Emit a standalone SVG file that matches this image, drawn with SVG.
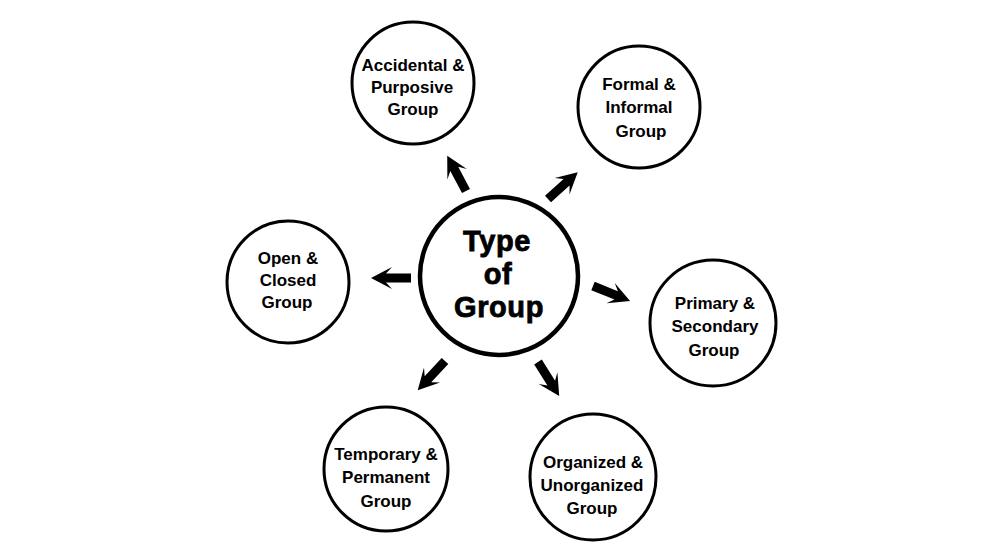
<svg xmlns="http://www.w3.org/2000/svg" width="1000" height="550" viewBox="0 0 1000 550">
<style>
.node{fill:#fff;stroke:#000;stroke-width:3}
.center{fill:#fff;stroke:#000;stroke-width:4.5}
.t{font-family:"Liberation Sans",Arial,sans-serif;font-weight:bold;font-size:17px;fill:#000;text-anchor:middle}
.tc{font-family:"Liberation Sans",Arial,sans-serif;font-weight:bold;font-size:29px;fill:#000;stroke:#000;stroke-width:0.8;letter-spacing:0.6px;text-anchor:middle}
</style>
<defs>
<path id="arr" d="M0,-4.5 L25,-4.5 L19,-11 L40,0 L19,11 L25,4.5 L0,4.5 Z" fill="#000"/>
</defs>
<rect width="1000" height="550" fill="#fff"/>
<g id="connectors">
<use href="#arr" transform="translate(466,191) rotate(-118)"/>
<use href="#arr" transform="translate(548,199) rotate(-42)"/>
<use href="#arr" transform="translate(411,278) rotate(180)"/>
<use href="#arr" transform="translate(593,286) rotate(22)"/>
<use href="#arr" transform="translate(445,361) rotate(133)"/>
<use href="#arr" transform="translate(538,362) rotate(58)"/>
</g>
<g id="center">
<circle class="center" cx="499" cy="276" r="79"/>
<text class="tc" x="497" y="251">Type</text>
<text class="tc" x="498" y="284">of</text>
<text class="tc" x="499" y="317">Group</text>
</g>
<g id="accidental">
<circle class="node" cx="413" cy="83" r="61"/>
<text class="t" x="413" y="71">Accidental &amp;</text>
<text class="t" x="412" y="93">Purposive</text>
<text class="t" x="413" y="115">Group</text>
</g>
<g id="formal">
<circle class="node" cx="639" cy="107" r="61"/>
<text class="t" x="639" y="90">Formal &amp;</text>
<text class="t" x="639" y="113">Informal</text>
<text class="t" x="641" y="137">Group</text>
</g>
<g id="open">
<circle class="node" cx="288" cy="282" r="61"/>
<text class="t" x="288" y="264">Open &amp;</text>
<text class="t" x="288" y="286">Closed</text>
<text class="t" x="287" y="308">Group</text>
</g>
<g id="primary">
<circle class="node" cx="713" cy="323" r="63"/>
<text class="t" x="715" y="309">Primary &amp;</text>
<text class="t" x="715" y="332">Secondary</text>
<text class="t" x="714" y="356">Group</text>
</g>
<g id="temporary">
<circle class="node" cx="386" cy="469" r="62"/>
<text class="t" x="386" y="460">Temporary &amp;</text>
<text class="t" x="386" y="483">Permanent</text>
<text class="t" x="386" y="507">Group</text>
</g>
<g id="organized">
<circle class="node" cx="593" cy="477" r="63"/>
<text class="t" x="593" y="468">Organized &amp;</text>
<text class="t" x="592" y="491">Unorganized</text>
<text class="t" x="592" y="514">Group</text>
</g>
</svg>
